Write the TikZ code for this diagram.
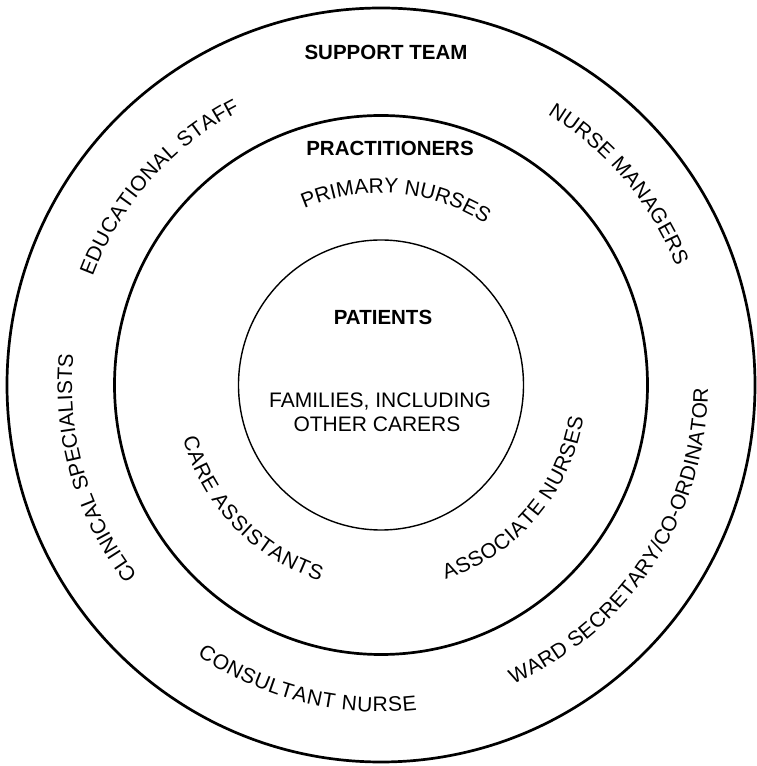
\documentclass[tikz,border=0pt]{standalone}
\usepackage{fontspec}
\setmainfont{Liberation Sans}
\usetikzlibrary{decorations.text}
\newcommand\arcfont{\fontsize{21}{25}\selectfont}
\tikzset{
  ring/.style={draw=black, line width=2.7pt},
  thinring/.style={draw=black, line width=1.4pt},
  lbl/.style={font=\fontsize{21}{25}\selectfont, inner sep=0pt, anchor=base},
  blbl/.style={font=\fontsize{20.5}{24}\selectfont\bfseries, inner sep=0pt, anchor=base},
  curvetext/.style={decorate, decoration={text along path, text align={fit to path}, text={|\arcfont|#1}}},
  centertext/.style={decorate, decoration={text along path, text align=center, text={|\arcfont|#1}}}
}
\begin{document}
\begin{tikzpicture}[x=1pt,y=1pt]
\useasboundingbox (0,0) rectangle (756,766);
\coordinate (c) at (381,381);
% rings
\draw[ring] (c) ellipse[x radius=374, y radius=377];
\draw[ring] (c) ellipse[x radius=266.5, y radius=269.5];
\draw[thinring] (c) ellipse[x radius=142.5, y radius=145];
% straight labels
\node[blbl] (support) at (386,706) {SUPPORT TEAM};
\node[blbl] (pract) at (390,610) {PRACTITIONERS};
\node[blbl] (patients) at (383,441) {PATIENTS};
\node[lbl] (fam1) at (380,358) {FAMILIES, INCLUDING};
\node[lbl] (fam2) at (377,334) {OTHER CARERS};
% outer band, clockwise (tops outward)
\path[curvetext={EDUCATIONAL STAFF}] (c) ++(159.4:308) arc[start angle=159.4, end angle=117.2, radius=308];
\path[curvetext={NURSE MANAGERS}] (c) ++(58.4:318) arc[start angle=58.4, end angle=21.9, radius=318];
\path[curvetext={CLINICAL SPECIALISTS}] (c) ++(218:309) arc[start angle=218, end angle=174.8, radius=309];
% outer band, counterclockwise (tops inward)
\path[curvetext={WARD SECRETARY/CO-ORDINATOR}] (c) ++(293.8:327) arc[start angle=293.8, end angle=359.4, radius=327];
\path[curvetext={CONSULTANT NURSE}] (c) ++(235.8:327) arc[start angle=235.8, end angle=276.3, radius=327];
% middle band
\path[centertext={PRIMARY NURSES}] (c) ++(130.3:192) arc[start angle=130.3, end angle=40.3, radius=192];
\path[curvetext={CARE ASSISTANTS}] (c) ++(195:205) arc[start angle=195, end angle=252.7, radius=205];
\path[curvetext={ASSOCIATE NURSES}] (c) ++(288.4:205) arc[start angle=288.4, end angle=350.9, radius=205];
\end{tikzpicture}
\end{document}
